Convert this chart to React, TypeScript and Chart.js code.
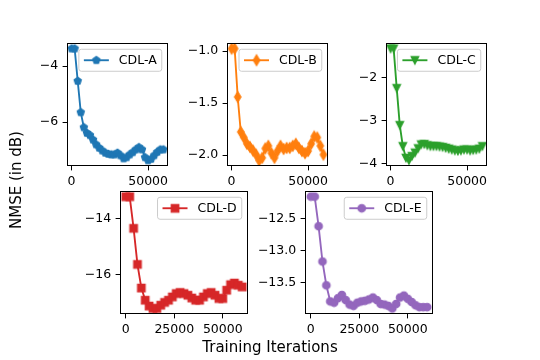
import React, { useEffect, useRef } from 'react';
import { Chart, registerables } from 'chart.js';

Chart.register(...registerables);

// ---------- data ----------
const iterations = [
  0, 2000, 4000, 6000, 8000, 10000, 12000, 14000, 16000, 18000, 20000,
  22000, 24000, 26000, 28000, 30000, 32000, 34000, 36000, 38000, 40000,
  42000, 44000, 46000, 48000, 50000, 52000, 54000, 56000, 58000, 60000,
];

const cdlA = [
  -3.37, -3.37, -4.53, -5.65, -6.19, -6.39, -6.47, -6.63, -6.8, -6.92, -7.02,
  -7.1, -7.14, -7.16, -7.16, -7.1, -7.19, -7.3, -7.26, -7.16, -7.08,
  -6.98, -6.9, -6.98, -7.26, -7.37, -7.32, -7.19, -7.07, -6.98, -6.98,
];
const cdlB = [
  -0.975, -0.975, -1.44, -1.776, -1.83, -1.89, -1.92, -1.955, -1.994, -2.05, -2.025,
  -1.935, -1.91, -1.98, -2.025, -1.96, -1.91, -1.94, -1.93, -1.93, -1.91,
  -1.89, -1.93, -1.96, -1.98, -1.96, -1.89, -1.82, -1.83, -1.91, -1.994,
];
const cdlC = [
  -1.33, -1.33, -2.25, -3.11, -3.6, -3.87, -3.93, -3.83, -3.75, -3.65, -3.56,
  -3.55, -3.58, -3.6, -3.6, -3.6, -3.61, -3.62, -3.64, -3.66, -3.68,
  -3.7, -3.71, -3.7, -3.68, -3.68, -3.7, -3.69, -3.68, -3.66, -3.6,
];
const cdlD = [
  -13.2, -13.2, -14.34, -15.64, -16.49, -16.93, -17.14, -17.23, -17.23, -17.11, -17.01,
  -16.93, -16.81, -16.69, -16.65, -16.69, -16.75, -16.85, -16.93, -16.93, -16.81,
  -16.69, -16.65, -16.75, -16.87, -16.87, -16.57, -16.37, -16.31, -16.39, -16.45,
];
const cdlE = [
  -12.16, -12.16, -12.62, -13.17, -13.54, -13.79, -13.81, -13.74, -13.69, -13.77, -13.84,
  -13.86, -13.81, -13.79, -13.78, -13.76, -13.73, -13.77, -13.83, -13.84, -13.86,
  -13.9, -13.83, -13.73, -13.7, -13.75, -13.8, -13.85, -13.88, -13.88, -13.88,
];

const yTicksA = [-6, -4];
const yTicksB = [-2.0, -1.5, -1.0];
const yTicksC = [-4, -3, -2];
const yTicksD = [-16, -14];
const yTicksE = [-13.5, -13.0, -12.5];
const xTicksTop = [0, 50000];
const xTicksBottom = [0, 25000, 50000];

const seriesLabels = ['CDL-A', 'CDL-B', 'CDL-C', 'CDL-D', 'CDL-E'];
const yLabel = 'NMSE (in dB)';
const xLabel = 'Training Iterations';

// ---------- styling / layout ----------
const W = 540;
const H = 360;
const FONT = '"DejaVu Sans", sans-serif';
const FS = 12.5;
const LABEL_FS = 15;

type MarkerKind = 'pentagon' | 'thin_diamond' | 'triangle_down' | 'square' | 'circle';

interface Spec {
  label: string;
  data: number[];
  color: string;
  marker: MarkerKind;
  yTicks: number[];
  dec: number;
  xTicks: number[];
  area: [number, number, number, number];
}

const specs: Spec[] = [
  { label: seriesLabels[0], data: cdlA, color: '#1f77b4', marker: 'pentagon', yTicks: yTicksA, dec: 0, xTicks: xTicksTop, area: [67, 43, 168, 166] },
  { label: seriesLabels[1], data: cdlB, color: '#ff7f0e', marker: 'thin_diamond', yTicks: yTicksB, dec: 1, xTicks: xTicksTop, area: [227, 43, 328, 166] },
  { label: seriesLabels[2], data: cdlC, color: '#2ca02c', marker: 'triangle_down', yTicks: yTicksC, dec: 0, xTicks: xTicksTop, area: [386, 43, 487, 166] },
  { label: seriesLabels[3], data: cdlD, color: '#d62728', marker: 'square', yTicks: yTicksD, dec: 0, xTicks: xTicksBottom, area: [120, 191, 248, 314] },
  { label: seriesLabels[4], data: cdlE, color: '#9467bd', marker: 'circle', yTicks: yTicksE, dec: 1, xTicks: xTicksBottom, area: [305, 191, 433, 314] },
];

function makeMarker(kind: MarkerKind, color: string): HTMLCanvasElement {
  const S = 16;
  const c = document.createElement('canvas');
  c.width = S;
  c.height = S;
  const g = c.getContext('2d')!;
  g.translate(S / 2, S / 2);
  const ms = 7.5;
  const r = ms / 2;
  g.beginPath();
  if (kind === 'pentagon') {
    for (let i = 0; i < 5; i++) {
      const a = -Math.PI / 2 + (i * 2 * Math.PI) / 5;
      const px = r * Math.cos(a);
      const py = r * Math.sin(a);
      if (i === 0) g.moveTo(px, py);
      else g.lineTo(px, py);
    }
  } else if (kind === 'thin_diamond') {
    const h = (ms * Math.SQRT2) / 2;
    const w = 0.6 * h;
    g.moveTo(0, -h);
    g.lineTo(w, 0);
    g.lineTo(0, h);
    g.lineTo(-w, 0);
  } else if (kind === 'triangle_down') {
    g.moveTo(0, r);
    g.lineTo(r, -r);
    g.lineTo(-r, -r);
  } else if (kind === 'square') {
    g.rect(-r, -r, ms, ms);
  } else {
    g.arc(0, 0, r, 0, Math.PI * 2);
  }
  g.closePath();
  g.fillStyle = color;
  g.fill();
  g.lineWidth = 1.25;
  g.strokeStyle = color;
  g.lineJoin = kind === 'circle' || kind === 'pentagon' ? 'round' : 'miter';
  g.stroke();
  return c;
}

function fmt(v: number, dec: number): string {
  const s = Math.abs(v).toFixed(dec);
  return v < 0 ? '\u2212' + s : s;
}

const YW = 50;
const XH = 30;

function Subplot({ spec }: { spec: Spec }) {
  const ref = useRef<HTMLCanvasElement>(null);
  useEffect(() => {
    if (!ref.current) return;
    const [L, T, R, B] = spec.area;
    const lo = Math.min(...spec.data);
    const hi = Math.max(...spec.data);
    const m = (hi - lo) * 0.05;
    const xlo = Math.min(...iterations);
    const xhi = Math.max(...iterations);
    const xm = (xhi - xlo) * 0.05;
    const img = makeMarker(spec.marker, spec.color);

    const framePlugin = {
      id: 'frameLegend',
      afterDatasetsDraw(chart: any) {
        const ctx = chart.ctx as CanvasRenderingContext2D;
        const ca = chart.chartArea;
        ctx.save();
        ctx.strokeStyle = '#000';
        ctx.lineWidth = 1;
        ctx.strokeRect(Math.round(ca.left) + 0.5, Math.round(ca.top) + 0.5, Math.round(ca.right - ca.left) - 1, Math.round(ca.bottom - ca.top) - 1);
        // legend
        ctx.font = `${FS}px ${FONT}`;
        const tw = ctx.measureText(spec.label).width;
        const bw = 5 + 25 + 10 + tw + 5;
        const bh = 22;
        const bx = ca.right - 6.25 - bw;
        const by = ca.top + 6.25;
        const rr = 2.5;
        ctx.beginPath();
        ctx.moveTo(bx + rr, by);
        ctx.lineTo(bx + bw - rr, by);
        ctx.arcTo(bx + bw, by, bx + bw, by + rr, rr);
        ctx.lineTo(bx + bw, by + bh - rr);
        ctx.arcTo(bx + bw, by + bh, bx + bw - rr, by + bh, rr);
        ctx.lineTo(bx + rr, by + bh);
        ctx.arcTo(bx, by + bh, bx, by + bh - rr, rr);
        ctx.lineTo(bx, by + rr);
        ctx.arcTo(bx, by, bx + rr, by, rr);
        ctx.closePath();
        ctx.fillStyle = 'rgba(255,255,255,0.8)';
        ctx.fill();
        ctx.strokeStyle = '#cccccc';
        ctx.lineWidth = 1;
        ctx.stroke();
        const cy = by + bh / 2;
        ctx.beginPath();
        ctx.moveTo(bx + 5, cy);
        ctx.lineTo(bx + 30, cy);
        ctx.strokeStyle = spec.color;
        ctx.lineWidth = 1.875;
        ctx.stroke();
        ctx.drawImage(img, bx + 17.5 - img.width / 2, cy - img.height / 2);
        ctx.fillStyle = '#000';
        ctx.textBaseline = 'middle';
        ctx.textAlign = 'left';
        ctx.fillText(spec.label, bx + 40, cy + 0.5);
        ctx.restore();
      },
    };

    const chart = new Chart(ref.current, {
      type: 'line',
      data: {
        datasets: [
          {
            label: spec.label,
            data: iterations.map((x, i) => ({ x, y: spec.data[i] })),
            borderColor: spec.color,
            backgroundColor: spec.color,
            borderWidth: 1.875,
            pointStyle: img as any,
            pointRadius: 4,
            pointHoverRadius: 4,
            tension: 0,
            fill: false,
          },
        ],
      },
      options: {
        responsive: false,
        animation: false,
        devicePixelRatio: 1,
        events: [],
        layout: {
          padding: { left: L - YW, top: T, right: W - R, bottom: H - B - XH },
        },
        plugins: {
          legend: { display: false },
          tooltip: { enabled: false },
        },
        scales: {
          x: {
            type: 'linear',
            min: xlo - xm,
            max: xhi + xm,
            afterFit: (s: any) => {
              s.height = XH;
            },
            afterBuildTicks: (s: any) => {
              s.ticks = spec.xTicks.map((v) => ({ value: v }));
            },
            ticks: {
              autoSkip: false,
              maxRotation: 0,
              minRotation: 0,
              padding: 3.5,
              color: '#000',
              font: { family: FONT, size: FS },
              callback: (v: any) => String(v),
            },
            grid: {
              display: true,
              drawOnChartArea: false,
              drawTicks: true,
              tickLength: 4.4,
              color: '#000',
              lineWidth: 1,
            },
            border: { display: false },
          },
          y: {
            type: 'linear',
            min: lo - m,
            max: hi + m,
            afterFit: (s: any) => {
              s.width = YW;
            },
            afterBuildTicks: (s: any) => {
              s.ticks = spec.yTicks.map((v) => ({ value: v }));
            },
            ticks: {
              autoSkip: false,
              padding: 4.4,
              color: '#000',
              font: { family: FONT, size: FS },
              callback: (v: any) => fmt(Number(v), spec.dec),
            },
            grid: {
              display: true,
              drawOnChartArea: false,
              drawTicks: true,
              tickLength: 4.4,
              color: '#000',
              lineWidth: 1,
            },
            border: { display: false },
          },
        },
      },
      plugins: [framePlugin],
    } as any);
    return () => chart.destroy();
  }, [spec]);

  return (
    <canvas
      ref={ref}
      width={W}
      height={H}
      style={{ position: 'absolute', left: 0, top: 0, width: W, height: H }}
    />
  );
}

export default function App() {
  return (
    <div
      style={{
        position: 'absolute',
        left: 0,
        top: 0,
        width: W,
        height: H,
        background: '#fff',
        overflow: 'hidden',
        fontFamily: FONT,
      }}
    >
      {specs.map((s) => (
        <Subplot key={s.label} spec={s} />
      ))}
      <div
        style={{
          position: 'absolute',
          left: 0,
          top: 338,
          width: W,
          height: 18,
          lineHeight: '18px',
          fontSize: LABEL_FS,
          textAlign: 'center',
          color: '#000',
          whiteSpace: 'nowrap',
        }}
      >
        {xLabel}
      </div>
      <div
        style={{
          position: 'absolute',
          left: -84,
          top: 171,
          width: 200,
          height: 18,
          lineHeight: '18px',
          fontSize: LABEL_FS,
          textAlign: 'center',
          color: '#000',
          whiteSpace: 'nowrap',
          transform: 'rotate(-90deg)',
          transformOrigin: '50% 50%',
        }}
      >
        {yLabel}
      </div>
    </div>
  );
}
